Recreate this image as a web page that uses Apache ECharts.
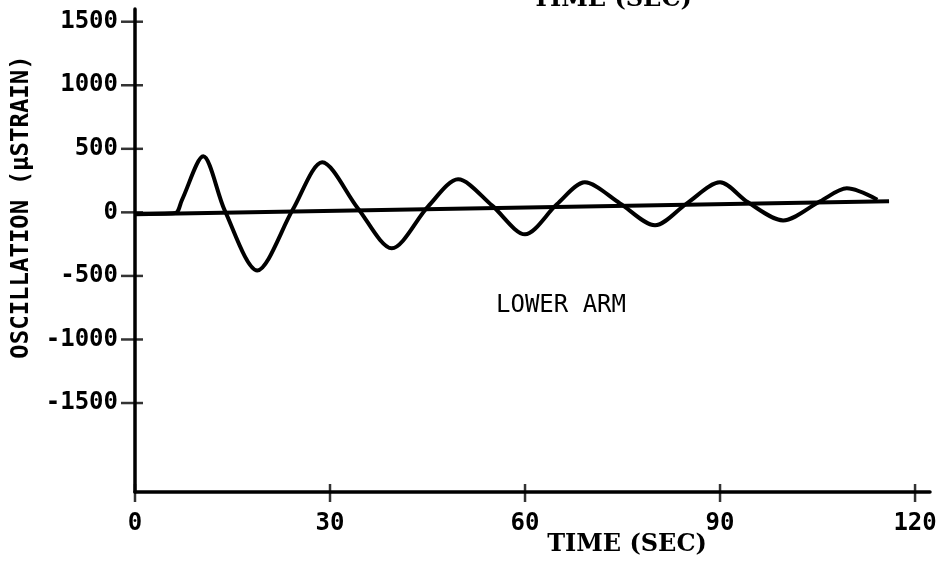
<!DOCTYPE html>
<html>
<head>
<meta charset="utf-8">
<script src="https://cdn.jsdelivr.net/npm/echarts@6/dist/echarts.min.js"></script>
<style>html,body{margin:0;padding:0;background:#fff}#c{width:946px;height:562px}</style>
</head>
<body>
<div id="c"></div>
<script>
// ---- data ----
const timeSec = [0, 6.2, 7.2, 10.5, 13.8, 18.8, 24.3, 28.8, 34.3, 39.5, 45.1, 49.7, 54.9, 60.0, 64.9, 69.2, 74.6, 80.0, 84.9, 90.0, 94.3, 99.7, 105.4, 109.5, 114.2];
const strain  = [-10, -5, 95, 441, 16, -457, 24, 394, 31, -283, 47, 260, 55, -173, 63, 236, 71, -102, 71, 236, 79, -63, 87, 189, 100];
const baseTime = [0, 116];
const baseStrain = [-15, 87];
const xTicks = [0, 30, 60, 90, 120];
const yTicks = [-1500, -1000, -500, 0, 500, 1000, 1500];
const xTitle = 'TIME (SEC)';
const yTitle = 'OSCILLATION (\u03BCSTRAIN)';
const note = 'LOWER ARM';

const X_MIN = 0, X_MAX = 122.3, Y_MIN = -2200, Y_MAX = 1600;

const chart = echarts.init(document.getElementById('c'), null, {renderer: 'canvas'});
const tickFont = {fontFamily: 'DejaVu Sans Mono', fontWeight: 'bold', fontSize: 24, color: '#000'};
const plain = v => String(v);

chart.setOption({
  animation: false,
  backgroundColor: '#fff',
  grid: {left: 135, right: 16, top: 9, height: 483},
  xAxis: {
    type: 'value', min: X_MIN, max: X_MAX, splitLine: {show: false},
    axisLine: {show: true, onZero: false, lineStyle: {color: '#000', width: 3.5}},
    axisTick: {show: false},
    axisLabel: Object.assign({show: true, margin: 20, customValues: xTicks, formatter: plain}, tickFont)
  },
  yAxis: {
    type: 'value', min: Y_MIN, max: Y_MAX, splitLine: {show: false},
    axisLine: {show: true, onZero: false, lineStyle: {color: '#000', width: 3.5}},
    axisTick: {show: false},
    axisLabel: Object.assign({show: true, margin: 17, customValues: yTicks, formatter: plain}, tickFont)
  },
  graphic: [
    {type: 'text', x: 612, y: 0, style: {text: xTitle, font: 'bold 24px "DejaVu Serif"', fill: '#000', align: 'center', verticalAlign: 'middle'}},
    {type: 'text', x: 627, y: 545, style: {text: xTitle, font: 'bold 24px "DejaVu Serif"', fill: '#000', align: 'center', verticalAlign: 'middle'}},
    {type: 'text', x: 22, y: 207, rotation: Math.PI / 2, style: {text: yTitle, font: 'bold 24px "DejaVu Sans Mono"', fill: '#000', align: 'center', verticalAlign: 'middle'}},
    {type: 'text', x: 561, y: 306, style: {text: note, font: '24px "DejaVu Sans Mono"', fill: '#000', align: 'center', verticalAlign: 'middle'}}
  ],
  series: [
    {
      type: 'line',
      data: baseTime.map((t, i) => [t, baseStrain[i]]),
      symbol: 'none', lineStyle: {color: '#000', width: 4}
    },
    {
      type: 'line',
      data: timeSec.map((t, i) => [t, strain[i]]),
      symbol: 'none', smooth: 0.3, lineStyle: {color: '#000', width: 4}
    },
    {
      // crossing tick marks on the y axis
      type: 'scatter', clip: false, silent: true,
      data: yTicks.map(v => [X_MIN, v]),
      symbol: 'rect', symbolSize: [22, 2.5], symbolOffset: [-3, 0],
      itemStyle: {color: '#000'}
    },
    {
      // crossing tick marks on the x axis
      type: 'scatter', clip: false, silent: true,
      data: xTicks.map(v => [v, Y_MIN]),
      symbol: 'rect', symbolSize: [2.5, 18], symbolOffset: [0, 1],
      itemStyle: {color: '#000'}
    }
  ]
});
</script>
</body>
</html>
